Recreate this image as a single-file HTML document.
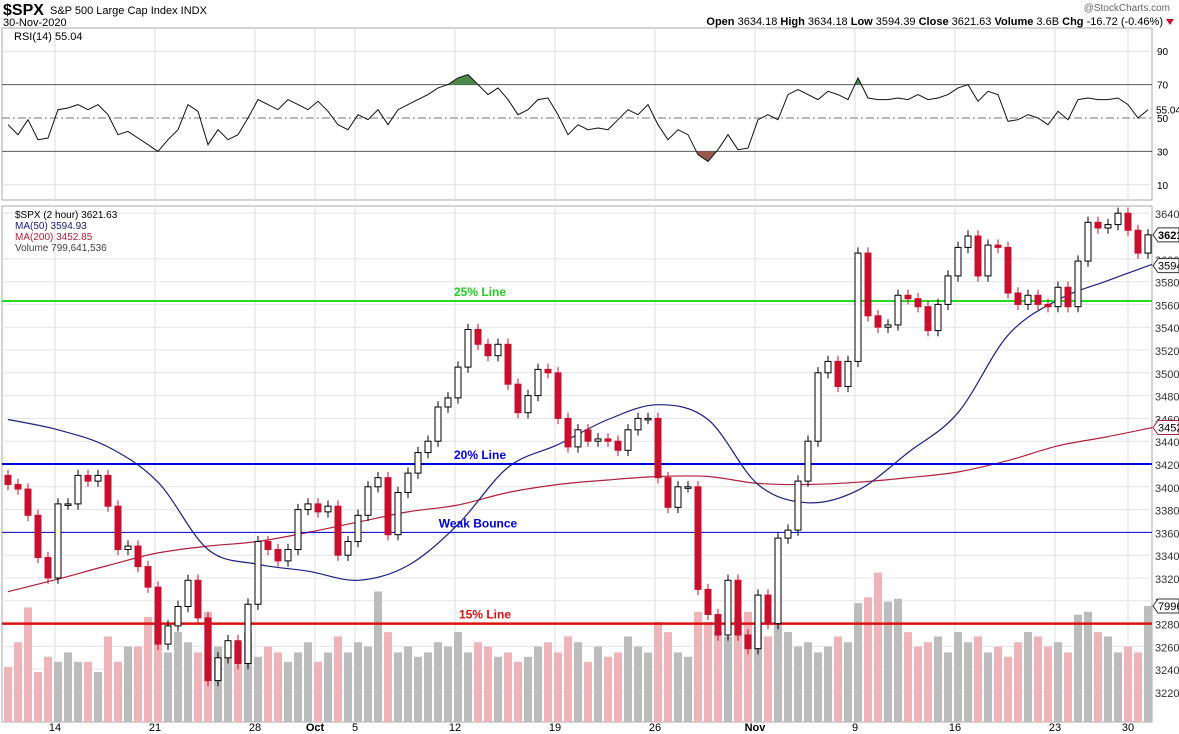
<!DOCTYPE html>
<html><head><meta charset="utf-8"><style>
body{margin:0;background:#fff;}
svg{display:block;font-family:"Liberation Sans",sans-serif;}
</style></head><body>
<svg id="chart" width="1179" height="734" viewBox="0 0 1179 734" xmlns="http://www.w3.org/2000/svg">
<text x="3" y="15" font-size="16" font-weight="bold">$SPX</text>
<text x="50" y="14" font-size="11">S&amp;P 500 Large Cap Index  INDX</text>
<text x="3" y="26" font-size="11">30-Nov-2020</text>
<text x="1170" y="11" font-size="10" fill="#666" text-anchor="end">@StockCharts.com</text>
<text x="1163" y="25" font-size="11" text-anchor="end"><tspan font-weight="bold">Open</tspan> 3634.18 <tspan font-weight="bold">High</tspan> 3634.18 <tspan font-weight="bold">Low</tspan> 3594.39 <tspan font-weight="bold">Close</tspan> 3621.63 <tspan font-weight="bold">Volume</tspan> 3.6B <tspan font-weight="bold">Chg</tspan> -16.72 (-0.46%)</text>
<polygon points="1166,19 1174,19 1170,25" fill="#c8102e"/>
<g id="rsi"></g>
<g id="price"></g>
</svg>
<script>
const closes=[3402,3398,3375,3338,3320,3385,3385,3410,3405,3410,
3383,3345,3348,3330,3312,3262,3278,3295,3318,3285,
3230,3250,3265,3245,3297,3352,3345,3335,3345,3380,
3385,3378,3383,3340,3352,3375,3400,3408,3358,3395,
3412,3430,3440,3470,3478,3505,3538,3525,3515,3525,
3490,3465,3480,3503,3500,3460,3435,3450,3440,3442,
3440,3432,3450,3460,3460,3408,3382,3400,3400,3310,
3288,3270,3318,3270,3258,3305,3280,3355,3362,3405,
3440,3500,3510,3488,3510,3605,3550,3540,3542,3568,
3565,3558,3537,3560,3585,3610,3620,3585,3612,3610,
3570,3560,3568,3560,3558,3575,3558,3598,3632,3627,
3630,3640,3625,3605,3621];
const firstOpen=3410;
const volumes=[380,550,790,345,450,415,480,415,415,345,
590,415,520,520,725,690,480,620,550,480,
760,520,450,550,620,450,520,480,415,480,
550,415,480,590,480,550,520,900,620,480,
520,450,480,550,520,620,480,550,520,450,
480,415,450,520,550,480,590,550,415,520,
450,480,590,520,480,690,620,480,450,760,
690,620,590,720,760,660,590,690,620,520,
550,480,520,590,550,820,860,1030,830,850,
620,520,550,590,480,620,550,590,480,520,
450,550,620,590,520,550,480,740,760,620,
590,480,520,480,800];
const ma50=[3459,3450,3435,3404,3345,3332,3326,3318,3331,3367,3417,3437,3459,3472,3459,3402,3386,3397,3430,3465,3533,3564,3581,3597];
const ma200=[3308,3319,3331,3342,3348,3352,3360,3369,3378,3384,3395,3402,3406,3409,3409,3403,3402,3404,3408,3413,3423,3436,3444,3453];
const rsiVals=[46,40,49,37,38,55,56,58,55,58,52,40,42,38,34,30,37,43,58,54,34,43,37,40,50,61,58,55,61,58,55,60,54,46,43,52,49,55,46,55,58,61,64,68,70,74,76,70,64,68,61,52,55,61,62,52,40,46,43,44,43,49,55,52,58,46,37,43,40,28,24,31,40,31,32,49,52,49,64,67,64,61,66,64,61,74,62,61,61,62,61,64,61,62,64,68,70,60,66,64,48,49,52,50,46,54,49,61,62,61,61,62,58,50,55];
const priceTicks=[3220,3240,3260,3280,3300,3320,3340,3360,3380,3400,3420,3440,3460,3480,3500,3520,3540,3560,3580,3600,3640];
const rsiTicks=[10,30,50,70,90];
const weekLabels=["14","21","28","Oct","5","12","19","26","Nov","9","16","23","30"];
const weekX=[55,155,255,315,355,455,555,655,755,855,955,1055,1128];
const levelLines=[{v:3563,c:"#22dd22",w:2,name:"25% Line",lx:480},{v:3420,c:"#0000dd",w:2,name:"20% Line",lx:480},{v:3360,c:"#0000cc",w:1,name:"Weak Bounce",lx:478},{v:3280,c:"#dd1111",w:2.5,name:"15% Line",lx:485}];

const NS="http://www.w3.org/2000/svg";
function mk(tag,attrs,parent){const e=document.createElementNS(NS,tag);for(const k in attrs)e.setAttribute(k,attrs[k]);parent.appendChild(e);return e;}
const PL=2,PR=1152;
const xOf=i=>8+10*i;
const yP=v=>464-(v-3420)*1.14;
const yR=v=>118-(v-50)*1.67;
const yV=v=>722-v*0.145;
const rsiG=document.getElementById('rsi'), priceG=document.getElementById('price');

let r=mk('rect',{x:PL,y:28,width:PR-PL,height:172,fill:'#fff',stroke:'#aaa'},rsiG);


weekX.forEach(x=>{let l=mk('line',{x1:x,x2:x,y1:28,y2:200,stroke:'#ddd'},rsiG);

});
rsiTicks.forEach(t=>{
 let dark=(t===30||t===70);
 let l=mk('line',{x1:PL,x2:PR,y1:yR(t),y2:yR(t),stroke:dark?'#555':(t===50?'#777':'#e2e2e2'),'stroke-dasharray':t===50?'8,3,2,3':'none'},rsiG);
 
 
 let tx=mk('text',{x:1157,y:yR(t)+4,'font-size':10},rsiG);tx.textContent=t;
 
 
});
const defs=mk('defs',{},document.getElementById('chart'));
mk('rect',{x:0,y:0,width:1179,height:yR(70)},mk('clipPath',{id:'ob'},defs));
mk('rect',{x:0,y:yR(30),width:1179,height:200-yR(30)},mk('clipPath',{id:'os'},defs));
let rp=rsiVals.map((v,i)=>xOf(i)+','+yR(v).toFixed(1)).join(' ');
let fob=mk('polygon',{points:`${xOf(0)},${yR(70)} ${rp} ${xOf(rsiVals.length-1)},${yR(70)}`,fill:'#4a8a4a','clip-path':'url(#ob)'},rsiG);


let fos=mk('polygon',{points:`${xOf(0)},${yR(30)} ${rp} ${xOf(rsiVals.length-1)},${yR(30)}`,fill:'#9a5a4a','clip-path':'url(#os)'},rsiG);


let rl=mk('polyline',{points:rp,fill:'none',stroke:'#111','stroke-width':1},rsiG);


let rt=mk('text',{x:14,y:40,'font-size':11},rsiG);rt.textContent='RSI(14) 55.04';


let rb=mk('text',{x:1156,y:yR(55.04)+4,'font-size':10},rsiG);rb.textContent='55.04';



let pf=mk('rect',{x:PL,y:206,width:PR-PL,height:516,fill:'#fff',stroke:'#aaa'},priceG);


weekX.forEach(x=>{let l=mk('line',{x1:x,x2:x,y1:206,y2:722,stroke:'#ddd'},priceG);

});
priceTicks.forEach(t=>{
 let l=mk('line',{x1:PL,x2:PR,y1:yP(t),y2:yP(t),stroke:'#e4e4e4'},priceG);
 
 
 let tx=mk('text',{x:1155,y:yP(t)+5,'font-size':11,fill:'#333'},priceG);tx.textContent=t;
 
 
});
weekLabels.forEach((s,k)=>{let tx=mk('text',{x:weekX[k],y:731,'font-size':11,'text-anchor':'middle','font-weight':(s==='Oct'||s==='Nov')?'bold':'normal'},priceG);tx.textContent=s;

});
volumes.forEach((v,i)=>{const o=i?closes[i-1]:firstOpen;const up=closes[i]>=o;
 let b=mk('rect',{x:xOf(i)-4,y:yV(v),width:8,height:722-yV(v),fill:up?'#bcbcbc':'#eeb4ba'},priceG);
 
 });
function maPath(arr){
 const pts=arr.map((v,k)=>[xOf(5*k),yP(v)]);
 let d='M'+pts[0][0]+','+pts[0][1].toFixed(1);
 for(let i=0;i<pts.length-1;i++){
  const p0=pts[Math.max(0,i-1)],p1=pts[i],p2=pts[i+1],p3=pts[Math.min(pts.length-1,i+2)];
  const c1=[p1[0]+(p2[0]-p0[0])/6,p1[1]+(p2[1]-p0[1])/6],c2=[p2[0]-(p3[0]-p1[0])/6,p2[1]-(p3[1]-p1[1])/6];
  d+=` C${c1[0].toFixed(1)},${c1[1].toFixed(1)} ${c2[0].toFixed(1)},${c2[1].toFixed(1)} ${p2[0]},${p2[1].toFixed(1)}`;
 }
 return d;}
mk('rect',{x:PL,y:206,width:PR-PL,height:516},mk('clipPath',{id:'pc'},defs));
let m2=mk('path',{d:maPath(ma200),fill:'none',stroke:'#b0203a','stroke-width':1.2,'clip-path':'url(#pc)'},priceG);


let m5=mk('path',{d:maPath(ma50),fill:'none',stroke:'#1a237e','stroke-width':1.2,'clip-path':'url(#pc)'},priceG);


levelLines.forEach(L=>{let l=mk('line',{x1:PL,x2:PR,y1:yP(L.v),y2:yP(L.v),stroke:L.c,'stroke-width':L.w},priceG);
 
 
 let t=mk('text',{x:L.lx,y:yP(L.v)-5,'font-size':12,'font-weight':'bold',fill:L.c==='#22dd22'?'#22cc22':L.c,'text-anchor':'middle'},priceG);t.textContent=L.name;
 
 });
closes.forEach((c,i)=>{const o=i?closes[i-1]:firstOpen;const up=c>=o;const x=xOf(i);
 const hi=Math.max(o,c)+5,lo=Math.min(o,c)-5;
 let w=mk('line',{x1:x,x2:x,y1:yP(hi),y2:yP(lo),stroke:up?'#000':'#c8102e'},priceG);
 
 
 const top=yP(Math.max(o,c)),h=Math.max(1.5,Math.abs(yP(o)-yP(c)));
 let b=mk('rect',{x:x-3,y:top,width:6,height:h,fill:up?'#fff':'#c8102e',stroke:up?'#000':'#c8102e','stroke-width':1},priceG);
 
 });
[['$SPX (2 hour) 3621.63','#000'],['MA(50) 3594.93','#1a237e'],['MA(200) 3452.85','#b0203a'],['Volume 799,641,536','#444']].forEach((d,k)=>{
 let t=mk('text',{x:15,y:218+k*11,'font-size':10,fill:d[1]},priceG);t.textContent=d[0];
 
 });
[[3621,'3621',true],[3594,'3594',false],[3452,'3452',false]].forEach(d=>{const y=yP(d[0]);
 let p=mk('polygon',{points:`1153,${y} 1158,${y-7} 1179,${y-7} 1179,${y+7} 1158,${y+7}`,fill:'#fff',stroke:d[0]===3452?'#b0203a':'#333'},priceG);
 
 
 let t=mk('text',{x:1158,y:y+4,'font-size':11,'font-weight':d[2]?'bold':'normal'},priceG);t.textContent=d[1];
 
 });
let vy=yV(800);
let vp=mk('polygon',{points:`1153,${vy} 1158,${vy-7} 1179,${vy-7} 1179,${vy+7} 1158,${vy+7}`,fill:'#fff',stroke:'#333'},priceG);


let vt=mk('text',{x:1158,y:vy+4,'font-size':11},priceG);vt.textContent='7996';


</script>
</body></html>
